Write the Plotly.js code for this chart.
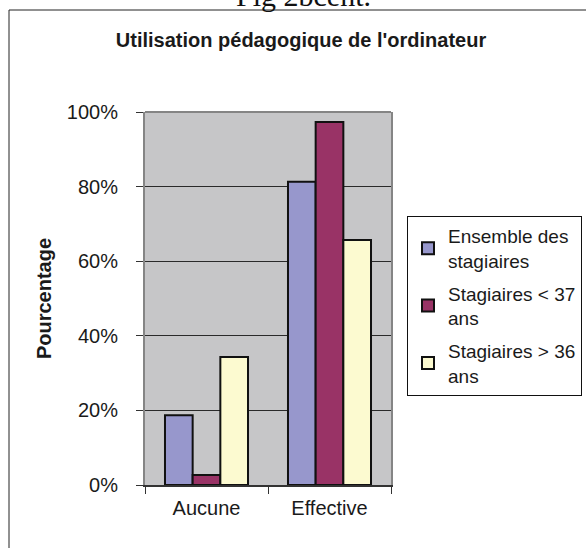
<!DOCTYPE html>
<html>
<head>
<meta charset="utf-8">
<script src="https://cdn.plot.ly/plotly-3.0.1.min.js"></script>
<style>html,body{margin:0;padding:0;background:#fff;}#chart{width:586px;height:548px;}</style>
</head>
<body>
<div id="chart"></div>
<script>
const categories = ["Aucune", "Effective"];
const seriesNames = ["Ensemble des<br>stagiaires", "Stagiaires < 37<br>ans", "Stagiaires > 36<br>ans"];
const ensemble = [18.7, 81.3];
const moins37 = [2.7, 97.3];
const plus36 = [34.3, 65.7];
const colors = ["#9797cc", "#993366", "#fcfad0"];
const yTicks = [0, 20, 40, 60, 80, 100];

const series = [ensemble, moins37, plus36];
const traces = series.map((vals, i) => ({
  type: "bar",
  x: categories,
  y: vals,
  name: seriesNames[i],
  legendgroup: "g" + i,
  marker: {color: colors[i], line: {color: "#111", width: 2}},
  hoverinfo: "skip"
}));

const font = "Arial, 'Liberation Sans', sans-serif";
const layout = {
  width: 586, height: 548,
  margin: {l: 145, r: 195, t: 112, b: 63, autoexpand: false},
  paper_bgcolor: "#ffffff",
  plot_bgcolor: "#c6c6c8",
  font: {family: font, size: 20, color: "#1a1a1a"},
  barmode: "group",
  bargap: 0.325,
  bargroupgap: 0,
  showlegend: true,
  title: {
    text: "<b>Utilisation pédagogique de l'ordinateur</b>",
    font: {family: font, size: 20, color: "#1a1a1a"},
    x: 301/586, xanchor: "center", xref: "container",
    y: 1 - 40/548, yanchor: "middle", yref: "container"
  },
  xaxis: {
    type: "category",
    showgrid: false,
    showline: true, linecolor: "#333", linewidth: 2,
    ticks: "outside", tickson: "boundaries", ticklen: 7, tickcolor: "#333", tickwidth: 1,
    tickfont: {family: font, size: 20, color: "#1a1a1a"},
    ticklabelstandoff: 4,
    automargin: false,
    fixedrange: true
  },
  yaxis: {
    range: [0, 100],
    tickvals: yTicks,
    ticktext: yTicks.map(v => v + "%"),
    showgrid: true, gridcolor: "#2a2a2a", gridwidth: 1,
    zeroline: false,
    showline: true, linecolor: "#858585", linewidth: 2, mirror: true,
    ticks: "outside", ticklen: 7, tickcolor: "#333", tickwidth: 1,
    tickfont: {family: font, size: 20, color: "#1a1a1a"},
    ticklabelstandoff: 14,
    automargin: false,
    title: {text: "<b>Pourcentage</b>", font: {family: font, size: 20, color: "#1a1a1a"}, standoff: 10},
    fixedrange: true
  },
  legend: {
    xref: "container", yref: "container",
    x: 407 / 586, xanchor: "left",
    y: 1 - 216 / 548, yanchor: "top",
    bgcolor: "#ffffff", bordercolor: "#111", borderwidth: 1,
    font: {family: font, size: 19, color: "#1a1a1a"},
    itemwidth: 30,
    tracegroupgap: 5,
    traceorder: "grouped"
  },
  shapes: [
    {type: "line", xref: "paper", yref: "paper", x0: 0, x1: 1, y0: 1, y1: 1,
     line: {color: "#858585", width: 2}},
    {type: "rect", xref: "paper", yref: "paper",
     x0: (9 - 145) / 246, x1: (620 - 145) / 246,
     y0: (485 - 600) / 373, y1: (485 - 10) / 373,
     line: {color: "#222", width: 1}, layer: "below"}
  ],
  annotations: [
    {text: "Fig 2bcent.", xref: "paper", yref: "paper",
     x: (303 - 145) / 246, xanchor: "center",
     y: (485 - 14) / 373, yanchor: "bottom",
     showarrow: false,
     font: {family: "'Liberation Serif', 'DejaVu Serif', serif", size: 30, color: "#111"}}
  ]
};

Plotly.newPlot("chart", traces, layout, {staticPlot: true, displayModeBar: false});
</script>
</body>
</html>
